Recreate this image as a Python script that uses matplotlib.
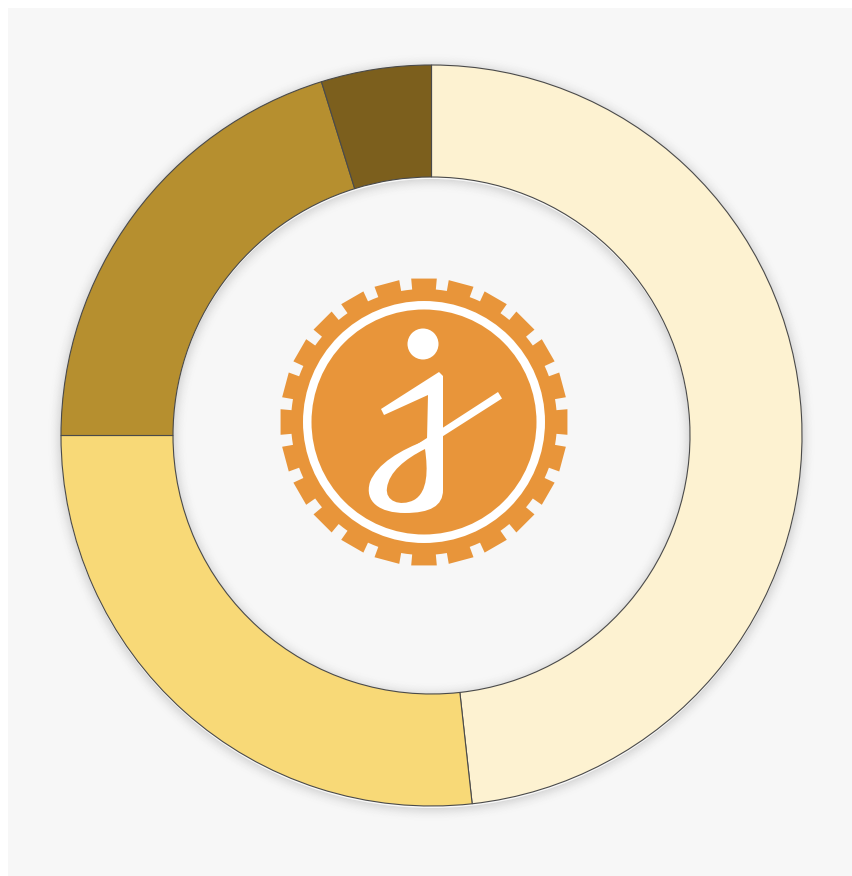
import numpy as np
import matplotlib
matplotlib.use("Agg")
import matplotlib.pyplot as plt
from matplotlib.patches import Rectangle, Circle, Wedge, Polygon, PathPatch
from matplotlib.path import Path

# donut data, clockwise from 12 o'clock
labels = ["A", "B", "C", "D"]
shares = [48.25, 26.75, 20.2, 4.8]
colors = ["#fdf2d1", "#f8d977", "#b68f2f", "#7c5f1d"]

W, H = 853, 876
CX, CY = 431.5, 435.5        # ring centre, image pixels
R_OUT, R_IN = 370.5, 258.5
ORANGE = "#e8953a"


def im(x, y):
    """image pixel coords (y down) -> data coords (y up)"""
    return (x, H - y)


def path_patch(verts, codes, **kw):
    v = [im(x, y) for x, y in verts]
    return PathPatch(Path(v, codes), **kw)


fig = plt.figure(figsize=(W / 100, H / 100), dpi=100)
fig.patch.set_facecolor("white")
ax = fig.add_axes([0, 0, 1, 1])
ax.set_xlim(0, W)
ax.set_ylim(0, H)
ax.set_aspect("equal")
ax.axis("off")

# panel background
ax.add_patch(Rectangle((8, 0), W - 8, H - 8, fc="#f7f7f7", ec="none", zorder=0))

# soft shadow around the ring
c = im(CX, CY + 2)
for d in range(1, 15):
    a = 0.13 * (1 - d / 15) ** 2
    ax.add_patch(Wedge(c, R_OUT + d, 0, 360, width=1.0, fc=(0, 0, 0, a), ec="none", zorder=1))
    ax.add_patch(Wedge(c, R_IN - d + 1, 0, 360, width=1.0, fc=(0, 0, 0, a), ec="none", zorder=1))

ax.pie(shares, colors=colors, startangle=90, counterclock=False,
       center=im(CX, CY), radius=R_OUT, frame=True,
       wedgeprops=dict(width=R_OUT - R_IN, edgecolor="#4a4a4a", linewidth=0.8, zorder=2))
ax.set_xlim(0, W)
ax.set_ylim(0, H)
ax.axis("off")

# ---- logo ----
GX, GY = 424, 422
n_teeth = 24
r_tip, r_root = 144, 133
pitch = 2 * np.pi / n_teeth
pts = []
for k in range(n_teeth):
    t0 = np.pi / 2 + k * pitch
    half = pitch * 0.34
    for t, r in [(t0 - half, r_root), (t0 - half, r_tip), (t0 + half, r_tip),
                 (t0 + half, r_root), (t0 + pitch / 2, r_root)]:
        pts.append((GX + r * np.cos(t), H - GY + r * np.sin(t)))
ax.add_patch(Polygon(pts, closed=True, fc=ORANGE, ec="none", zorder=5))
ax.add_patch(Circle(im(GX, GY), 121, fc="white", ec="none", zorder=6))
ax.add_patch(Circle(im(GX, GY), 112.5, fc=ORANGE, ec="none", zorder=7))

# the "j"
ax.add_patch(Circle(im(423, 344), 15.5, fc="white", ec="none", zorder=8))
M, L, C, Z = Path.MOVETO, Path.LINETO, Path.CURVE4, Path.CLOSEPOLY
body = [(381, 409), (439, 372), (443, 376), (443, 490),
        (443, 506), (430, 513), (405, 513),
        (380, 513), (364, 502), (370, 482),
        (377, 464), (400, 450), (427, 440),
        (428, 395), (384, 415), (381, 409)]
body_codes = [M, L, L, L, C, C, C, C, C, C, C, C, C, L, L, Z]
ax.add_patch(path_patch(body, body_codes, fc="white", ec="none", zorder=8))

hole = [(425, 449),
        (428, 470), (428, 492), (414, 500),
        (400, 507), (385, 501), (387, 488),
        (389, 472), (405, 459), (425, 449),
        (425, 449)]
hole_codes = [M, C, C, C, C, C, C, C, C, C, Z]
ax.add_patch(path_patch(hole, hole_codes, fc=ORANGE, ec="none", zorder=9))

line = [im(410, 449), im(498, 392), im(502, 398.5), im(415, 454)]
ax.add_patch(Polygon(line, closed=True, fc="white", ec="none", zorder=10))

fig.savefig("out.png", dpi=100, facecolor=fig.get_facecolor())
